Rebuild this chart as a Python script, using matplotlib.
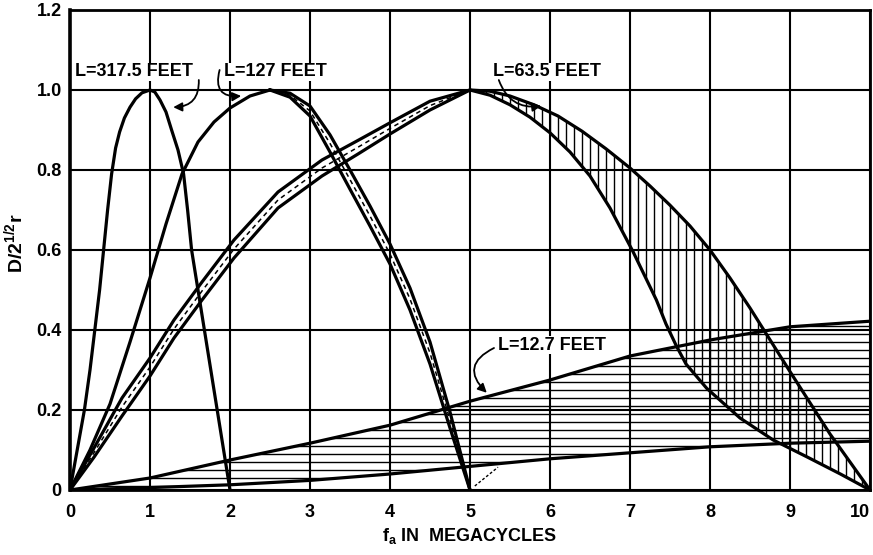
import matplotlib
matplotlib.use('Agg')
import matplotlib.pyplot as plt
import numpy as np
from matplotlib.patches import Polygon

# L = 317.5 ft
x_317 = [0, 0.09, 0.18, 0.25, 0.31, 0.37, 0.42, 0.47, 0.52, 0.57, 0.62, 0.68, 0.75, 0.82, 0.9, 1.0,
         1.06, 1.125, 1.2, 1.27, 1.35, 1.42, 1.47, 1.52, 1.6, 1.68, 1.76, 1.84, 1.92, 2.0]
y_317 = [0, 0.1, 0.2, 0.3, 0.4, 0.5, 0.6, 0.7, 0.79, 0.855, 0.895, 0.93, 0.957, 0.978, 0.993, 1.0,
         0.995, 0.975, 0.945, 0.9, 0.85, 0.79, 0.7, 0.6, 0.5, 0.4, 0.3, 0.2, 0.1, 0]

# L = 127 ft, rising part (single line)
x_127_rise = [0, 0.25, 0.5, 0.75, 1.0, 1.2, 1.4, 1.6, 1.8, 2.0, 2.25, 2.5]
y_127_rise = [0, 0.1, 0.215, 0.37, 0.53, 0.665, 0.79, 0.87, 0.92, 0.955, 0.985, 1.0]
# L = 127 ft, falling part (two bounds)
x_127_fall = [2.5, 2.75, 3.0, 3.25, 3.5, 3.75, 4.0, 4.25, 4.5, 4.75, 5.0]
y_127_fall_out = [1.0, 0.992, 0.96, 0.888, 0.8, 0.71, 0.615, 0.505, 0.37, 0.195, 0]
y_127_fall_in = [1.0, 0.982, 0.935, 0.845, 0.752, 0.66, 0.565, 0.45, 0.315, 0.155, 0]

# L = 63.5 ft, rising part (two bounds)
x_63_rise = [0, 0.3, 0.65, 1.0, 1.3, 1.65, 2.05, 2.6, 3.15, 3.6, 4.0, 4.5, 5.0]
y_63_rise_hi = [0, 0.105, 0.23, 0.33, 0.425, 0.52, 0.625, 0.745, 0.825, 0.874, 0.918, 0.972, 1.0]
y_63_rise_lo = [0, 0.082, 0.185, 0.285, 0.38, 0.475, 0.58, 0.705, 0.785, 0.84, 0.89, 0.95, 1.0]
# L = 63.5 ft, falling part
x_63_fall_hi = [5.0, 5.25, 5.5, 5.8, 6.1, 6.4, 6.7, 7.0, 7.25, 7.5, 7.75, 8.0, 8.25, 8.5, 9.0, 9.5, 10.0]
y_63_fall_hi = [1.0, 0.997, 0.985, 0.963, 0.935, 0.897, 0.853, 0.805, 0.76, 0.712, 0.66, 0.6, 0.53,
                0.455, 0.296, 0.14, 0]
x_63_fall_lo = [5.0, 5.25, 5.5, 5.75, 6.0, 6.25, 6.5, 6.75, 7.04, 7.33, 7.45, 7.58, 7.7, 7.96, 8.375,
                8.79, 9.21, 9.63, 10.0]
y_63_fall_lo = [1.0, 0.987, 0.963, 0.932, 0.893, 0.845, 0.785, 0.705, 0.595, 0.475, 0.415, 0.36, 0.315,
                0.254, 0.18, 0.125, 0.083, 0.04, 0]

# L = 12.7 ft (two bounds)
x_12 = [0, 1, 2, 3, 4, 5, 6, 7, 8, 9, 10]
y_12_hi = [0, 0.03, 0.075, 0.117, 0.162, 0.222, 0.275, 0.335, 0.375, 0.408, 0.422]
y_12_lo = [0, 0.006, 0.013, 0.024, 0.04, 0.059, 0.078, 0.093, 0.108, 0.117, 0.122]

x_ticks = [0, 1, 2, 3, 4, 5, 6, 7, 8, 9, 10]
x_tick_labels = ['0', '1', '2', '3', '4', '5', '6', '7', '8', '9', '10']
y_ticks = [0, 0.2, 0.4, 0.6, 0.8, 1.0, 1.2]
y_tick_labels = ['0', '0.2', '0.4', '0.6', '0.8', '1.0', '1.2']

FONT = 'Liberation Sans'
plt.rcParams['font.family'] = [FONT, 'DejaVu Sans']

fig = plt.figure(figsize=(8.73, 5.55), dpi=100)
ax = fig.add_axes([70 / 873, 65 / 555, 800 / 873, 480 / 555])
ax.set_xlim(0, 10)
ax.set_ylim(0, 1.2)

LW = 2.3
HATCH_LW = 1.0

# grid
for xv in x_ticks:
    ax.axvline(xv, color='black', lw=1.5, zorder=1)
for yv in y_ticks:
    ax.axhline(yv, color='black', lw=1.5, zorder=1)


def clipped(ax, xs_top, ys_top, xs_bot, ys_bot):
    verts = list(zip(xs_top, ys_top)) + list(zip(xs_bot, ys_bot))[::-1]
    poly = Polygon(verts, closed=True, facecolor='none', edgecolor='none')
    ax.add_patch(poly)
    return poly


# horizontal hatching, L = 12.7 ft
poly12 = clipped(ax, x_12, y_12_hi, x_12, y_12_lo)
hl = ax.hlines(np.arange(0.01, 0.44, 0.02), 0, 10, color='black', lw=HATCH_LW, zorder=2)
hl.set_clip_path(poly12)

# vertical hatching, L = 63.5 ft falling side
poly63 = clipped(ax, x_63_fall_hi, y_63_fall_hi, x_63_fall_lo, y_63_fall_lo)
vl = ax.vlines(np.arange(5.1, 10.0, 0.1), 0, 1.0, color='black', lw=HATCH_LW, zorder=2)
vl.set_clip_path(poly63)

# white strip with dashes inside the narrow bands
for xs, ya, yb in [(x_63_rise, y_63_rise_hi, y_63_rise_lo),
                   (x_127_fall, y_127_fall_out, y_127_fall_in)]:
    mid = (np.array(ya) + np.array(yb)) / 2
    ax.plot(xs, mid, color='black', lw=1.1, dashes=(3, 2.5), zorder=3)

# curves
curve = dict(color='black', lw=LW, zorder=4, solid_joinstyle='round')
ax.plot(x_317, y_317, **curve)
ax.plot(x_127_rise, y_127_rise, **curve)
ax.plot(x_127_fall, y_127_fall_out, **curve)
ax.plot(x_127_fall, y_127_fall_in, **curve)
ax.plot(x_63_rise + x_63_fall_hi[1:], y_63_rise_hi + y_63_fall_hi[1:], **curve)
ax.plot(x_63_rise + x_63_fall_lo[1:], y_63_rise_lo + y_63_fall_lo[1:], **curve)
ax.plot(x_12, y_12_hi, **curve)
ax.plot(x_12, y_12_lo, **curve)

# small dashed stroke near f = 5
ax.plot([5.06, 5.35], [0.01, 0.057], color='black', lw=1.0, dashes=(2, 1.5), zorder=3)

# labels with curved arrows
lab = dict(fontsize=13, fontweight='bold', ha='left', va='center', zorder=6,
           bbox=dict(facecolor='white', edgecolor='none', pad=0.5))
arw = dict(arrowstyle='-|>', color='black', lw=1.3, mutation_scale=13, shrinkA=0, shrinkB=0)

ax.text(0.06, 1.045, 'L=317.5 FEET', **lab)
ax.annotate('', xy=(1.29, 0.957), xytext=(1.61, 1.025),
            arrowprops=dict(connectionstyle='arc3,rad=-0.5', **arw), zorder=6)

ax.text(1.92, 1.045, 'L=127 FEET', **lab)
ax.annotate('', xy=(2.14, 0.985), xytext=(1.87, 1.05),
            arrowprops=dict(connectionstyle='arc3,rad=0.7', **arw), zorder=6)

ax.text(5.29, 1.045, 'L=63.5 FEET', **lab)
ax.annotate('', xy=(5.89, 0.96), xytext=(5.36, 1.025),
            arrowprops=dict(connectionstyle='arc3,rad=0.4', **arw), zorder=6)

ax.text(5.35, 0.3625, 'L=12.7 FEET', **lab)
ax.annotate('', xy=(5.21, 0.243), xytext=(5.3, 0.355),
            arrowprops=dict(connectionstyle='arc3,rad=0.7', **arw), zorder=6)

# axes
ax.set_xticks(x_ticks)
ax.set_xticklabels(x_tick_labels)
ax.set_yticks(y_ticks)
ax.set_yticklabels(y_tick_labels)
ax.tick_params(axis='both', length=0, labelsize=13)
ax.tick_params(axis='x', pad=10)
ax.tick_params(axis='y', pad=6)
for t in ax.get_xticklabels() + ax.get_yticklabels():
    t.set_fontweight('bold')
ax.get_xticklabels()[-1].set_ha('right')

for side in ['left', 'top', 'bottom', 'right']:
    ax.spines[side].set_linewidth(2.0)
    ax.spines[side].set_zorder(5)
ax.spines['left'].set_linewidth(2.6)

ax.set_xlabel(r'f$_\mathregular{a}$ IN  MEGACYCLES', fontsize=13, fontweight='bold', labelpad=4)
fig.text(15 / 873, 1 - 243 / 555, r'D/2$^{\mathregular{1/2}}$r', rotation=90,
         fontsize=14, fontweight='bold', ha='center', va='center')

fig.savefig('out.png', dpi=100, facecolor='white')
